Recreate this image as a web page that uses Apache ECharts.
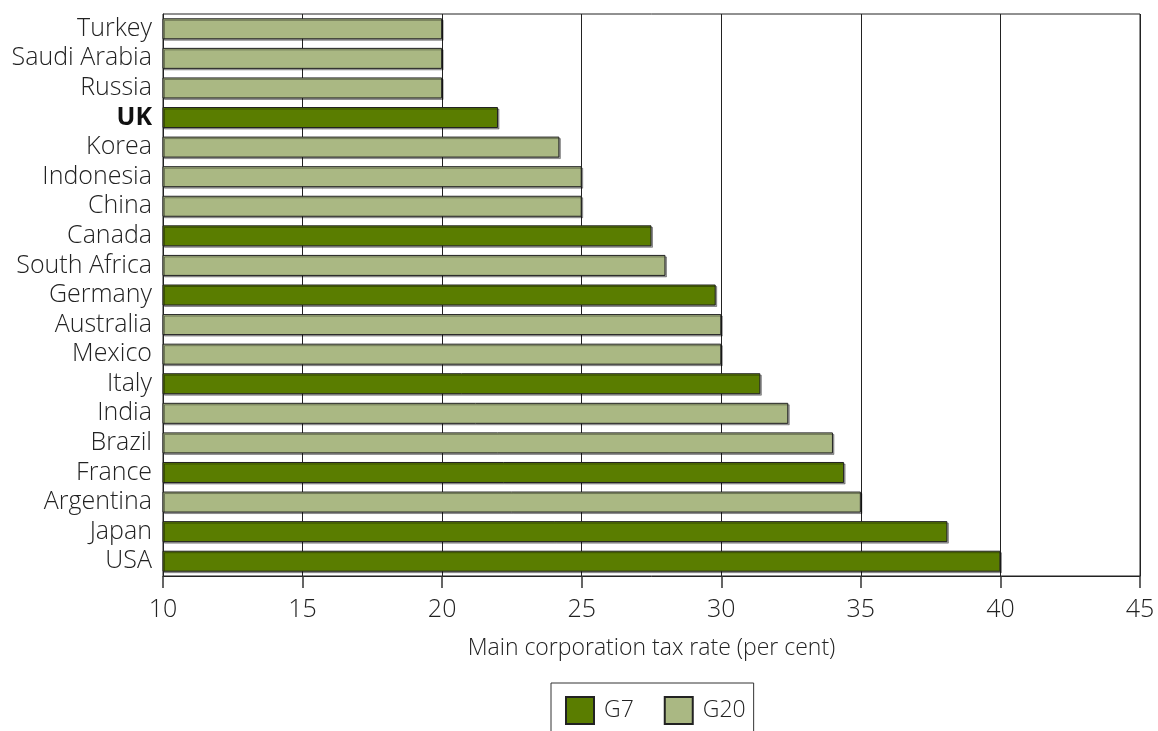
<!DOCTYPE html>
<html><head><meta charset="utf-8">
<script src="https://cdn.jsdelivr.net/npm/echarts@6/dist/echarts.min.js"></script>
<style>html,body{margin:0;padding:0;background:#fff}#c{width:1158px;height:731px}</style>
</head><body><div id="c"></div>
<script>
const categories = ['Turkey','Saudi Arabia','Russia','UK','Korea','Indonesia','China','Canada','South Africa','Germany','Australia','Mexico','Italy','India','Brazil','France','Argentina','Japan','USA'];
const rates = [20,20,20,22,24.2,25,25,27.5,28,29.8,30,30,31.4,32.4,34,34.4,35,38.1,40];
const groups = ['G20','G20','G20','G7','G20','G20','G20','G7','G20','G7','G20','G20','G7','G20','G20','G7','G20','G7','G7'];
const xTicks = [10,15,20,25,30,35,40,45];

const colors = {G7:'#5a7d00', G20:'#aab883'};
const FONT = '"Open Sans", "Noto Sans", sans-serif';
function seriesFor(g){
  return {
    name: g, type: 'bar', barWidth: 21, barGap: '-100%',
    data: rates.map((v,i)=> groups[i]===g ? v : '-'),
    itemStyle: {color: colors[g], borderColor:'#222', borderWidth:1,
      shadowColor:'rgba(0,0,0,0.35)', shadowOffsetX:1.5, shadowOffsetY:1.5, shadowBlur:0},
    emphasis:{disabled:true}, silent:true
  };
}
const chart = echarts.init(document.getElementById('c'), null, {renderer:'canvas'});
chart.setOption({
  animation:false,
  textStyle:{fontFamily:FONT},
  grid:{left:163, right:18, top:14, bottom:155, show:true, borderColor:'#222', borderWidth:1, containLabel:false},
  xAxis:{type:'value', min:xTicks[0], max:xTicks[xTicks.length-1], interval:5,
    name:'Main corporation tax rate (per cent)', nameLocation:'middle', nameGap:61,
    nameTextStyle:{fontSize:23, color:'#222', fontFamily:FONT, fontWeight:300},
    axisLine:{show:true, lineStyle:{color:'#222', width:1}},
    axisTick:{show:true, length:12, lineStyle:{color:'#333', width:1.5}},
    axisLabel:{fontSize:25, color:'#222', margin:21, fontFamily:FONT, fontWeight:300},
    splitLine:{show:true, lineStyle:{color:'#222', width:1}}},
  yAxis:{type:'category', data:categories, inverse:true,
    axisLine:{show:true, lineStyle:{color:'#222'}}, axisTick:{show:false},
    axisLabel:{interval:0, hideOverlap:false, fontSize:25, color:'#222', margin:11, fontFamily:FONT, fontWeight:300,
      formatter: v => v==='UK' ? '{b|UK}' : v,
      rich:{b:{fontWeight:'bold', fontSize:25, color:'#111', fontFamily:FONT}}}},
  legend:{data:['G7','G20'], left:551, top:683, orient:'horizontal',
    padding:[13,8,20,14], borderColor:'#333', borderWidth:1, itemWidth:28, itemHeight:27, itemGap:30,
    icon:'rect', textStyle:{fontSize:23, color:'#222', fontFamily:FONT, fontWeight:300, padding:[0,0,0,5]},
    selectedMode:false},
  series:[seriesFor('G7'), seriesFor('G20')]
});
</script></body></html>
